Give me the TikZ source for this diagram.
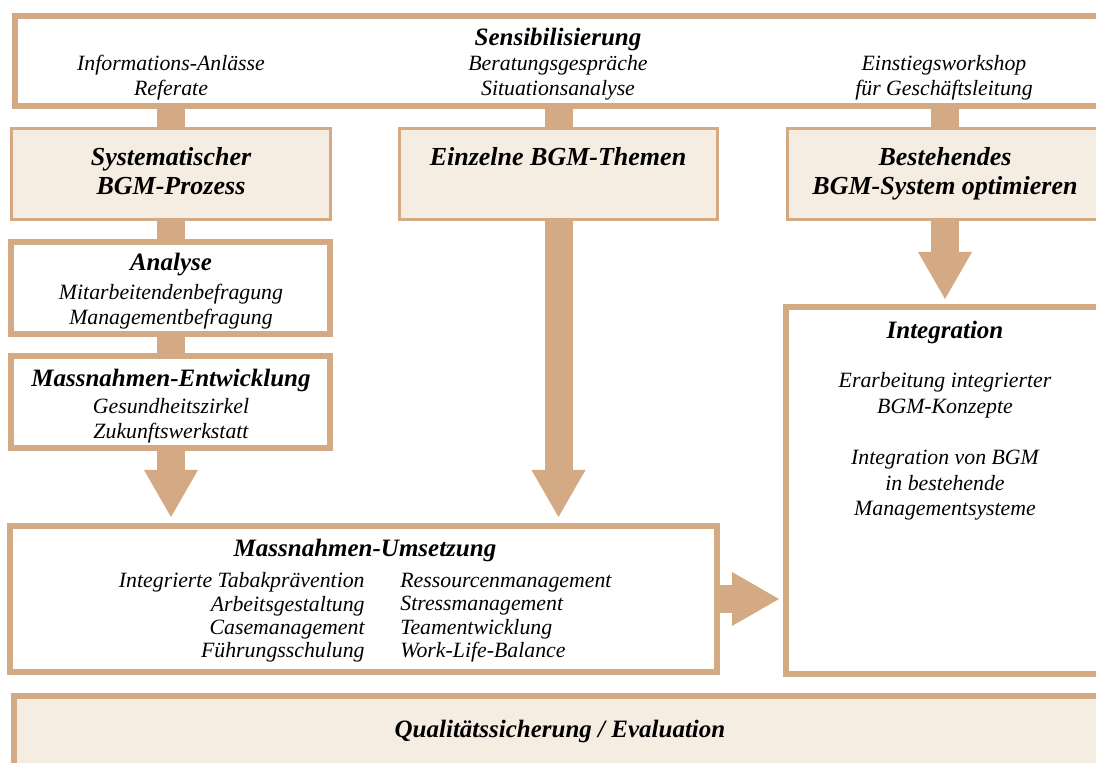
\documentclass[tikz,border=0pt]{standalone}
\usepackage{fontspec}
\setmainfont{Liberation Serif}
\usetikzlibrary{arrows.meta,calc}
\definecolor{bgmtan}{RGB}{212,170,132}
\definecolor{bgmfill}{RGB}{245,236,226}

\begin{document}
\begin{tikzpicture}[
    x=0.5pt, y=-0.5pt,
    box/.style={draw=bgmtan, line width=3pt, fill=white, inner sep=0pt},
    topic/.style={draw=bgmtan, line width=1.5pt, fill=bgmfill, inner sep=0pt},
    title/.style={align=center, inner sep=0pt, font=\bfseries\itshape\fontsize{12.5}{14.5}\selectfont},
    bigtitle/.style={align=center, inner sep=0pt, font=\bfseries\itshape\fontsize{13}{14.5}\selectfont},
    txt/.style={align=center, inner sep=0pt, font=\itshape\fontsize{10.9}{12.5}\selectfont},
    bar/.style={draw=bgmtan, line width=14pt},
    bigarrow/.style={bar, -{Triangle[width=27pt, length=23.5pt, line width=0pt]}}
]
    \path[use as bounding box, clip] (0,0) rectangle (1096,763);

    % boxes
    \node [box, minimum width=545pt, minimum height=45pt] (sens) at (560,61) {};
    \node [topic, minimum width=159.5pt, minimum height=45.5pt] (syst) at (171,174) {};
    \node [topic, minimum width=159pt, minimum height=45.5pt] (einz) at (558.5,174) {};
    \node [topic, minimum width=157.5pt, minimum height=45.5pt] (best) at (945,174) {};
    \node [box, minimum width=159.5pt, minimum height=46pt] (analyse) at (170.5,288) {};
    \node [box, minimum width=159.5pt, minimum height=46pt] (entw) at (170.5,402) {};
    \node [box, minimum width=353.5pt, minimum height=73pt] (umset) at (363.5,599) {};
    \node [box, minimum width=159pt, minimum height=183.5pt] (integ) at (945,490.5) {};
    \node [box, fill=bgmfill, minimum width=546pt, minimum height=47pt] (quali) at (560,743) {};

    % texts
    \node [title] (senstitle) at (558,39) {Sensibilisierung};
    \node [txt] (infotxt) at (171,77.5) {Informations-Anlässe\\Referate};
    \node [txt] (beratxt) at (558,77.5) {Beratungsgespräche\\Situationsanalyse};
    \node [txt] (worktxt) at (944,77.5) {Einstiegsworkshop\\für Geschäftsleitung};
    \node [bigtitle] (systtxt) at (171,171.5) {Systematischer\\BGM-Prozess};
    \node [bigtitle] (einztxt) at (558,157) {Einzelne BGM-Themen};
    \node [bigtitle] (besttxt) at (945,174) {Bestehendes\\BGM-System optimieren};
    \node [title] (analysetitle) at (171,265) {Analyse};
    \node [txt] (analysetxt) at (171,306.5) {Mitarbeitendenbefragung\\Managementbefragung};
    \node [title] (entwtitle) at (171,380) {Massnahmen-Entwicklung};
    \node [txt] (entwtxt) at (171,420.5) {Gesundheitszirkel\\Zukunftswerkstatt};
    \node [title] (umsettitle) at (365,550) {Massnahmen-Umsetzung};
    \node [txt, align=right, anchor=east, font=\itshape\fontsize{10.9}{11.7}\selectfont] (umsetleft) at (365,617.5)
        {Integrierte Tabakprävention\\Arbeitsgestaltung\\Casemanagement\\Führungsschulung};
    \node [txt, align=left, anchor=west, font=\itshape\fontsize{10.9}{11.7}\selectfont] (umsetright) at (400,617.5)
        {Ressourcenmanagement\\Stressmanagement\\Teamentwicklung\\Work-Life-Balance};
    \node [title] (integtitle) at (945,332) {Integration};
    \node [txt, font=\itshape\fontsize{10.9}{12.8}\selectfont] (integtxt) at (945,446.5)
        {Erarbeitung integrierter\\BGM-Konzepte\\[13pt]Integration von BGM\\in bestehende\\Managementsysteme};
    \node [title] (qualitxt) at (560,731) {Qualitätssicherung / Evaluation};

    % connectors
    \draw [bar] (sens.south -| syst.north) -- (syst.north);
    \draw [bar] (sens.south -| einz.north) -- (einz.north);
    \draw [bar] (sens.south -| best.north) -- (best.north);
    \draw [bar] (syst.south) -- (syst.south |- analyse.north);
    \draw [bar] (analyse.south -| syst.south) -- (entw.north -| syst.south);
    \draw [bigarrow, shorten >=3pt] (entw.south -| syst.south) -- (umset.north -| syst.south);
    \draw [bigarrow, shorten >=3pt] (einz.south) -- (einz.south |- umset.north);
    \draw [bigarrow, shorten >=2.5pt] (best.south) -- (best.south |- integ.north);
    \draw [bigarrow, shorten >=2pt] (umset.east) -- (umset.east -| integ.west);
\end{tikzpicture}
\end{document}
